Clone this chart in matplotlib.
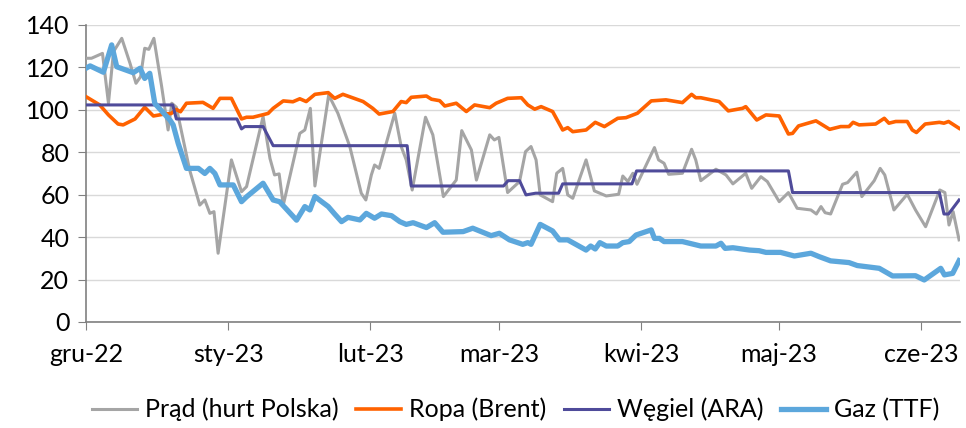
import numpy as np
import pandas as pd
import matplotlib
matplotlib.use("Agg")
import matplotlib.pyplot as plt

plt.rcParams['font.family'] = ['Lato', 'DejaVu Sans']

start = pd.Timestamp('2022-12-01')
month_days = [0, 31, 62, 90, 121, 151, 182]
month_labels = ['gru-22', 'sty-23', 'lut-23', 'mar-23', 'kwi-23', 'maj-23', 'cze-23']

# Prad (hurt Polska) - days since 1 Dec 2022, value
prad_days = [0, 1.2, 3.6, 4.9, 6, 7.8, 9.6, 10.9, 11.9, 12.8, 13.7, 14.8, 16.5, 17.9, 18.7, 19.7,
             22.6, 24.8, 25.9, 27, 27.9, 28.8, 31.7, 33.9, 35, 38.6, 40.1, 41.1, 42.1, 43, 46.6,
             47.7, 48.9, 49.9, 52.9, 54.9, 57.5, 60, 61, 62.2, 62.9, 63.9, 67.3, 68.7, 69.8, 71.1,
             74, 75.6, 77.9, 80.7, 81.9, 84, 85.1, 88, 89, 90, 91.9, 94.5, 95.8, 97, 98.1, 99,
             101.7, 102.6, 103.9, 105, 106.1, 109, 110.8, 113.4, 116.1, 117, 118.1, 119.2, 120.1,
             123.9, 124.8, 126, 127, 130, 132, 132.9, 134, 137.3, 139.5, 141, 143.8, 145.1, 147.1,
             148.5, 151.1, 153.1, 155, 158, 159.2, 160.2, 161.1, 162.3, 164.9, 166, 168, 169.1,
             171.8, 173.1, 174.1, 176.1, 179, 180.8, 183, 186.1, 187.2, 188.1, 189, 190.3]
prad_vals = [124.3, 124.3, 126.6, 103.1, 127.4, 133.7, 121.9, 112.5, 115.6, 129, 128.5, 133.7, 110.9,
             90.5, 103.1, 101.2, 71.6, 55.1, 57.5, 51.2, 52, 32.4, 76.4, 61.4, 63.8, 96.8, 77.1,
             69.3, 69.8, 55.1, 88.9, 90.5, 100.7, 64.1, 107, 98.4, 82.7, 60.7, 57.5, 69.3, 74, 72.4,
             98.4, 82.7, 76.4, 62.2, 96.5, 88.2, 59.1, 66.9, 90.2, 81.1, 66.9, 88.2, 85.8, 87, 61,
             66.2, 80.3, 82.7, 76.4, 59.9, 56.7, 70.1, 72.4, 59.9, 58.3, 76.4, 61.8, 59.4, 60.2,
             68.8, 66.2, 70.1, 64.9, 82.2, 76.4, 74.8, 69.6, 70.1, 81.4, 76.4, 66.6, 72, 69.3, 65.1,
             70.1, 63, 68.5, 66.2, 56.7, 61, 53.6, 52.8, 50.9, 54.4, 51.5, 50.9, 64.9, 65.7, 70.6,
             59.1, 66.6, 72.4, 69.3, 52.8, 60.2, 52.8, 44.9, 62.2, 61, 45.7, 52, 38.7]

# Ropa (Brent)
ropa_days = [0, 3, 4.9, 7, 8.1, 10.7, 12.8, 14.7, 16.8, 18.6, 19.7, 20.6, 21.9, 25.5, 27.7, 29.2,
             31.7, 33.9, 35, 36.4, 39.7, 40.8, 43, 45.1, 46.6, 48, 49.9, 52.8, 54.2, 56, 60.4, 62.5,
             63.9, 66.9, 68.7, 69.8, 70.9, 74.2, 75.3, 77.1, 78.2, 80.7, 82.9, 84.7, 88, 89.4, 91.9,
             94.9, 96.3, 97.8, 99.2, 101.7, 103.9, 105, 106.1, 109, 111, 113, 115.9, 117.7, 120.2,
             123.2, 126.4, 130, 132, 132.9, 134, 138, 140, 143.1, 143.8, 146.2, 148.2, 151.1, 153.1,
             154, 155.3, 159.1, 162.1, 164.5, 166.3, 167.2, 168.5, 172.1, 174, 175, 176.5, 179,
             180.1, 181, 182.9, 186, 187, 188, 190.3]
ropa_vals = [106.2, 102.3, 97.6, 93.3, 92.9, 95.7, 101.2, 97.1, 97.9, 98.3, 100.2, 99.1, 103.1,
             103.5, 100.7, 105.4, 105.4, 95.7, 96.5, 96.5, 98.3, 100.7, 104.2, 103.8, 105.2, 103.9,
             107.3, 108.1, 105.4, 107.3, 103.9, 100.7, 98, 99.2, 103.9, 103.4, 105.9, 106.5, 105,
             104.3, 101.8, 103.1, 99.2, 102.3, 101, 103.1, 105.4, 105.7, 102.3, 100.3, 101.5, 99.2,
             90.5, 91.6, 89.7, 90.5, 94.1, 92.1, 96, 96.3, 98.4, 104.2, 104.7, 103.4, 107.3, 105.7,
             105.7, 103.9, 99.5, 100.7, 101.5, 95.2, 97.6, 97.1, 88.6, 88.9, 92.4, 94.8, 90.8, 92.1,
             92.1, 94.1, 92.9, 93.3, 96, 93.7, 94.5, 94.5, 90.5, 89.3, 93.3, 94.1, 93.7, 94.5, 91.3]

# Wegiel (ARA) - step series
wegiel_days = [0, 18.9, 19.7, 32.9, 33.9, 34.6, 38.6, 40.8, 70.0, 70.9, 91, 92, 94.5, 95.9, 98,
               103, 103.9, 119, 120, 153.1, 154, 186, 187, 188, 190.3]
wegiel_vals = [102.3, 102.3, 95.7, 95.7, 91, 92.1, 92.1, 83.1, 83.1, 64.1, 64.1, 66.6, 66.6, 59.9,
               60.7, 60.7, 65.1, 65.1, 71.2, 71.2, 61, 61, 50.9, 50.9, 57.5]

# Gaz (TTF)
gaz_days = [0, 0.9, 3.8, 5.6, 6.7, 10.3, 11.8, 12.8, 13.9, 15, 18.3, 19, 20.1, 21.9, 24.5, 25.9,
            27, 28.1, 29.2, 32.1, 33.9, 35, 38.6, 40.8, 42.2, 45.9, 47.7, 48.8, 49.9, 52.8, 54.2,
            55.7, 57.1, 59.7, 61.1, 62.9, 64.4, 66.6, 68.4, 69.8, 71.3, 74.2, 76, 77.8, 82.2, 84.3,
            88.3, 90.1, 92.3, 95.2, 96.3, 97, 99, 101.7, 103.2, 105, 109, 110, 111, 112, 113.4,
            115.9, 117, 118.4, 119.9, 123.2, 123.9, 125, 126, 130, 134, 137.3, 138.4, 139.3, 141,
            144.6, 146.7, 148.2, 151.4, 154.4, 158, 159.8, 162.3, 166.3, 168.1, 172.9, 175.8, 180.8,
            182.7, 186.3, 187.1, 188.9, 190.3]
gaz_vals = [119.6, 120.7, 117.7, 130.6, 120.3, 117.5, 119.6, 114.8, 117.2, 103, 95.2, 92.9, 84.2,
            72.4, 72.4, 70, 72.4, 70, 64.6, 64.6, 56.7, 59, 65.4, 57.5, 56.7, 48, 54.4, 52.8, 59.1,
            54.4, 50.9, 47.3, 49.3, 48.1, 51.2, 48.9, 50.9, 50.1, 47.3, 46, 46.8, 44.5, 46.8, 42.3,
            42.6, 44.2, 40.7, 41.8, 38.7, 36.6, 37.4, 36.6, 46, 42.9, 38.7, 38.7, 33.9, 35.8, 34.4,
            37.4, 35.8, 35.8, 37.4, 37.9, 41, 43.4, 39.4, 39.4, 37.9, 37.9, 35.8, 35.8, 37.1, 34.7,
            35, 33.9, 33.6, 32.8, 32.8, 31.1, 32.4, 30.8, 28.8, 28, 26.6, 25.3, 21.7, 21.8, 19.8,
            25.3, 22.2, 22.9, 28.9]


def to_dates(days):
    return start + pd.to_timedelta(np.array(days), unit='D')


fig = plt.figure(figsize=(9.66, 4.28), dpi=100)
ax = fig.add_axes([0.089, 0.2477, 0.9048, 0.694])

ax.plot(to_dates(prad_days), prad_vals, color='#a5a5a5', lw=2.2, label='Prąd (hurt Polska)', zorder=3)
ax.plot(to_dates(ropa_days), ropa_vals, color='#ff6200', lw=2.6, label='Ropa (Brent)', zorder=4)
ax.plot(to_dates(wegiel_days), wegiel_vals, color='#4f4b9a', lw=2.2, label='Węgiel (ARA)', zorder=5)
ax.plot(to_dates(gaz_days), gaz_vals, color='#5ca7dc', lw=3.8, label='Gaz (TTF)', zorder=6,
        solid_joinstyle='round')

ax.set_ylim(0, 140)
ax.set_yticks(np.arange(0, 141, 20))
ax.set_xlim(to_dates([0])[0], to_dates([190.5])[0])
ax.set_xticks(to_dates(month_days))
ax.set_xticklabels(month_labels)

ax.grid(axis='y', color='#d9d9d9', lw=1.0, zorder=0)
ax.set_axisbelow(True)
for s in ['top', 'right']:
    ax.spines[s].set_visible(False)
for s in ['left', 'bottom']:
    ax.spines[s].set_color('#808080')
    ax.spines[s].set_linewidth(1.2)
ax.tick_params(axis='y', length=6, color='#808080', labelsize=18, pad=6)
ax.tick_params(axis='x', length=6, color='#808080', labelsize=18, pad=9)

fig.legend(loc='center', bbox_to_anchor=(0.534, 0.043), ncol=4, frameon=False, fontsize=18,
           handlelength=1.8, handletextpad=0.32, columnspacing=0.7)

fig.savefig('out.png', dpi=100)
